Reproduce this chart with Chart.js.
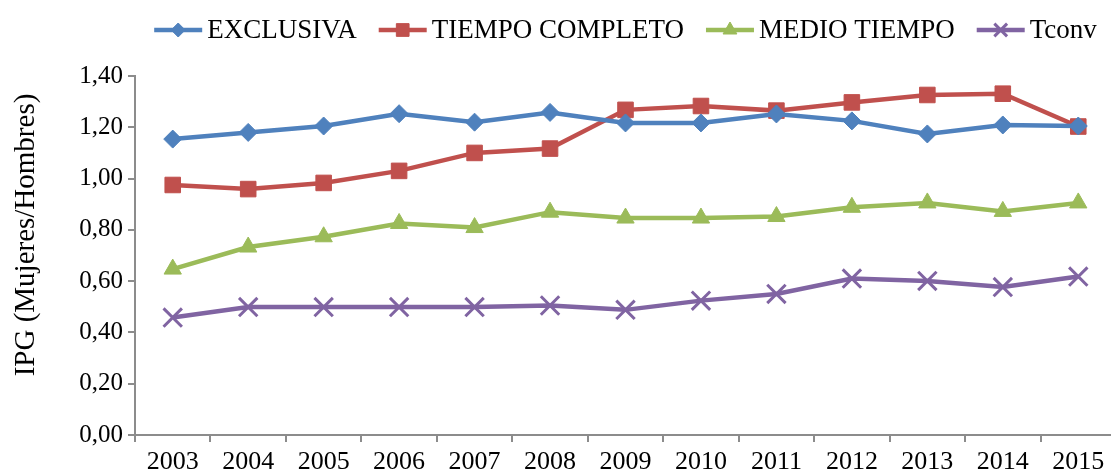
<!DOCTYPE html>
<html>
<head>
<meta charset="utf-8">
<script src="https://cdn.jsdelivr.net/npm/chart.js@4/dist/chart.umd.min.js"></script>
<style>
  html, body { margin: 0; padding: 0; overflow: hidden; background: #fff; }
  #wrap { width: 1132px; height: 480px; }
</style>
</head>
<body>
<div id="wrap"><canvas id="myChart"></canvas></div>
<script>
const years = ['2003', '2004', '2005', '2006', '2007', '2008', '2009', '2010', '2011', '2012', '2013', '2014', '2015'];
const exclusiva = [1.154, 1.18, 1.205, 1.253, 1.22, 1.258, 1.217, 1.217, 1.252, 1.225, 1.174, 1.209, 1.205];
const tiempoCompleto = [0.975, 0.959, 0.983, 1.03, 1.1, 1.117, 1.268, 1.283, 1.265, 1.297, 1.326, 1.331, 1.203];
const medioTiempo = [0.647, 0.733, 0.773, 0.825, 0.809, 0.869, 0.846, 0.846, 0.852, 0.888, 0.905, 0.872, 0.905];
const tconv = [0.458, 0.499, 0.499, 0.499, 0.499, 0.505, 0.488, 0.524, 0.55, 0.61, 0.601, 0.577, 0.618];
const yTicks = [0, 0.2, 0.4, 0.6, 0.8, 1.0, 1.2, 1.4];

const serif = "'Liberation Serif', 'Times New Roman', serif";
const axisGray = '#8c8c8c';

function series(label, values, color, style, radius, extra) {
  return Object.assign({
    label: label,
    data: values,
    borderColor: color,
    backgroundColor: color,
    pointBackgroundColor: color,
    pointBorderColor: color,
    borderWidth: 4.5,
    pointStyle: style,
    pointRadius: radius,
    pointHoverRadius: radius,
    pointBorderWidth: 1,
    tension: 0
  }, extra || {});
}

// legend drawn as line + marker + text, like the spreadsheet legend
const legendPlugin = {
  id: 'lineLegend',
  afterDraw(chart) {
    const ctx = chart.ctx;
    const area = chart.chartArea;
    const sizes = { rectRot: 7, rect: 9, triangle: 8, crossRot: 9 };
    ctx.save();
    ctx.font = '27px ' + serif;
    const items = chart.data.datasets.map(ds => ({ ds, w: ctx.measureText(ds.label).width }));
    const lineLen = 48, gap = 5, between = 22;
    let total = items.reduce((s, it) => s + lineLen + gap + it.w, 0) + between * (items.length - 1);
    let x = (area.left + area.right) / 2 - total / 2;
    const y = 30;
    items.forEach(it => {
      const ds = it.ds;
      ctx.strokeStyle = ds.borderColor;
      ctx.fillStyle = ds.borderColor;
      ctx.lineWidth = 4.5;
      ctx.beginPath();
      ctx.moveTo(x, y);
      ctx.lineTo(x + lineLen, y);
      ctx.stroke();
      ctx.lineWidth = ds.pointStyle === 'crossRot' ? 3 : 1;
      Chart.helpers.drawPoint(ctx, { pointStyle: ds.pointStyle, radius: sizes[ds.pointStyle], rotation: 0, borderWidth: ctx.lineWidth }, x + lineLen / 2, y);
      ctx.fillStyle = '#000';
      ctx.textBaseline = 'middle';
      ctx.textAlign = 'left';
      ctx.fillText(ds.label, x + lineLen + gap, y + 1);
      x += lineLen + gap + it.w + between;
    });
    // y axis title
    ctx.translate(26, 235);
    ctx.rotate(-Math.PI / 2);
    ctx.textAlign = 'center';
    ctx.textBaseline = 'middle';
    ctx.font = '29px ' + serif;
    ctx.fillText('IPG (Mujeres/Hombres)', 0, 0);
    ctx.restore();
  }
};

new Chart(document.getElementById('myChart'), {
  type: 'line',
  data: {
    labels: years,
    datasets: [
      series('EXCLUSIVA', exclusiva, '#4f81bd', 'rectRot', 9),
      series('TIEMPO COMPLETO', tiempoCompleto, '#c0504d', 'rect', 11),
      series('MEDIO TIEMPO', medioTiempo, '#9bbb59', 'triangle', 10),
      series('Tconv', tconv, '#8064a2', 'crossRot', 13, { pointBorderWidth: 3 })
    ]
  },
  options: {
    responsive: true,
    maintainAspectRatio: false,
    animation: false,
    layout: { padding: { top: 76, right: 9, left: 0, bottom: 0 } },
    plugins: {
      legend: { display: false },
      tooltip: { enabled: false }
    },
    scales: {
      x: {
        offset: true,
        afterFit: s => { s.height = 45; },
        grid: { display: true, offset: true, drawOnChartArea: false, tickLength: 7, color: axisGray, lineWidth: 2 },
        border: { color: axisGray, width: 2 },
        ticks: { color: '#000', font: { family: serif, size: 26 }, padding: 5, maxRotation: 0, autoSkip: false }
      },
      y: {
        min: 0,
        max: 1.4,
        afterFit: s => { s.width = 135; },
        afterBuildTicks: s => { s.ticks = yTicks.map(v => ({ value: v })); },
        grid: { display: true, drawOnChartArea: false, tickLength: 7, color: axisGray, lineWidth: 2 },
        border: { color: axisGray, width: 2 },
        ticks: {
          color: '#000',
          font: { family: serif, size: 25 },
          padding: 5,
          callback: v => v.toFixed(2).replace('.', ',')
        }
      }
    }
  },
  plugins: [legendPlugin]
});
</script>
</body>
</html>
